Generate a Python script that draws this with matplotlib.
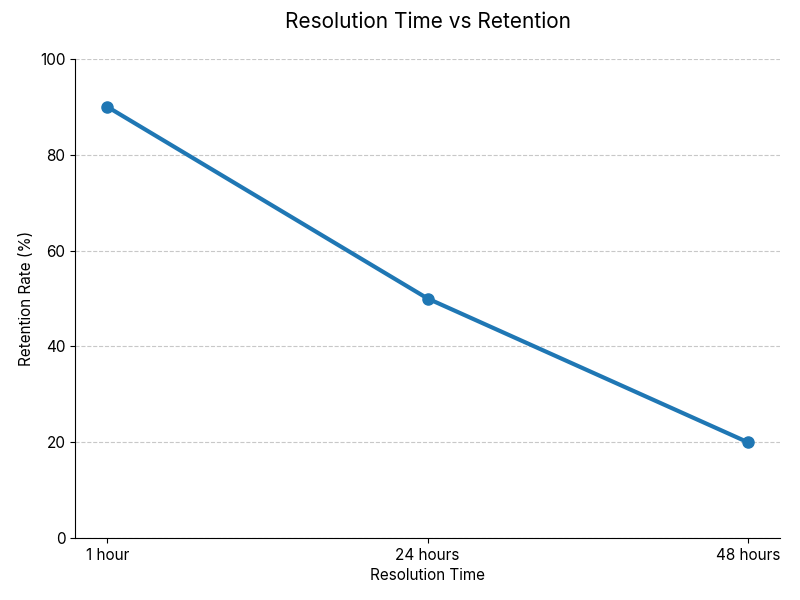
import matplotlib
matplotlib.use("Agg")
import matplotlib.pyplot as plt

categories = ["1 hour", "24 hours", "48 hours"]
retention = [90, 50, 20]

plt.rcParams['font.family'] = ['Inter', 'DejaVu Sans']

fig, ax = plt.subplots(figsize=(8, 6), dpi=100)
fig.subplots_adjust(left=0.094, right=0.975, top=0.902, bottom=0.103)

x = list(range(len(categories)))
ax.plot(x, retention, color="#1f77b4", linewidth=3, marker="o", markersize=8)
ax.set_xticks(x)
ax.set_xticklabels(categories, fontsize=11)
ax.set_ylim(0, 100)
ax.tick_params(axis='y', labelsize=11)
ax.set_xlabel("Resolution Time", fontsize=11)
ax.set_ylabel("Retention Rate (%)", fontsize=11)
ax.set_title("Resolution Time vs Retention", fontsize=15, pad=22)
ax.grid(axis='y', linestyle='--', color='#c8c8c8', linewidth=0.8)
ax.set_axisbelow(True)
for s in ['top', 'right']:
    ax.spines[s].set_visible(False)

fig.savefig("out.png", dpi=100)
